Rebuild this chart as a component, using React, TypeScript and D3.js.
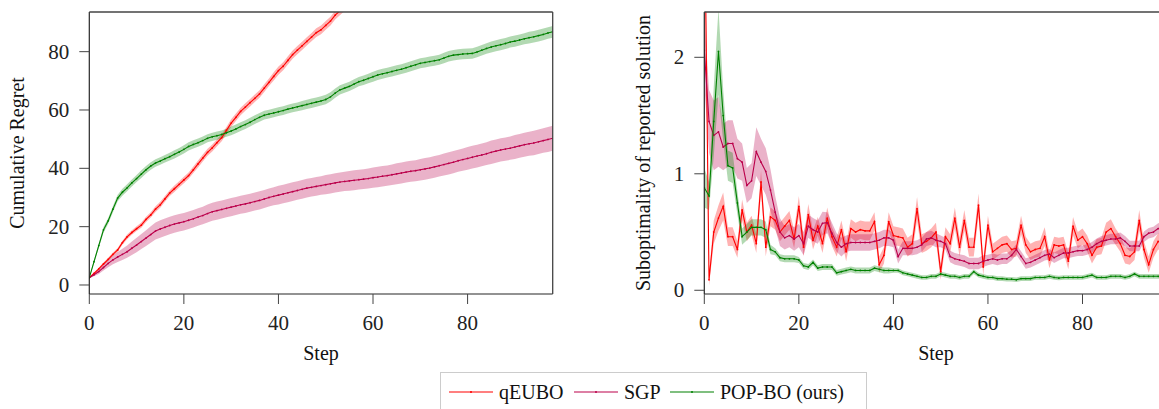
import React from 'react';
import * as d3 from 'd3';

// step axis: 0..98
const stepTicks = [0, 20, 40, 60, 80];
const regretTicks = [0, 20, 40, 60, 80];
const suboptTicks = [0, 1, 2];

// cumulative regret (left panel); qEUBO leaves the plot after step 53
const qeuboRegret = [
  2.5, 4.0, 5.5, 7.2, 8.8, 10.5, 12.0, 14.5, 16.5, 18.0,
  19.3, 20.5, 22.5, 24.0, 26.0, 27.5, 29.5, 31.5, 33.0, 34.5,
  36.0, 37.5, 39.5, 41.5, 43.5, 45.5, 47.0, 48.8, 50.5, 53.0,
  55.5, 57.5, 59.5, 61.0, 62.5, 64.0, 65.5, 67.5, 69.5, 71.5,
  73.5, 75.0, 77.0, 79.0, 80.5, 82.0, 83.5, 85.0, 86.5, 87.5,
  89.0, 90.5, 92.5, 94.0, 95.5, 97.5,
];
const qeuboRegretErr = [
  0.3, 0.4, 0.5, 0.5, 0.6, 0.6, 0.7, 0.7, 0.8, 0.8,
  0.8, 0.9, 0.9, 0.9, 1.0, 1.0, 1.0, 1.0, 1.1, 1.1,
  1.1, 1.1, 1.1, 1.2, 1.2, 1.2, 1.2, 1.2, 1.2, 1.2,
  1.3, 1.3, 1.3, 1.3, 1.3, 1.3, 1.3, 1.3, 1.3, 1.4,
  1.4, 1.4, 1.4, 1.4, 1.4, 1.4, 1.4, 1.4, 1.5, 1.5,
  1.5, 1.5, 1.5, 1.5, 1.5, 1.5,
];
const sgpRegret = [
  2.5, 3.5, 4.6, 6.0, 7.4, 8.6, 9.6, 10.5, 11.4, 12.6,
  13.7, 14.9, 16.1, 17.3, 18.5, 19.2, 19.8, 20.4, 20.9, 21.3,
  21.7, 22.2, 22.7, 23.3, 23.8, 24.5, 25.1, 25.5, 25.9, 26.3,
  26.7, 27.1, 27.5, 27.8, 28.2, 28.6, 29.0, 29.5, 30.0, 30.4,
  30.8, 31.2, 31.6, 32.0, 32.4, 32.8, 33.2, 33.5, 33.8, 34.1,
  34.4, 34.7, 35.0, 35.3, 35.5, 35.7, 35.9, 36.1, 36.3, 36.5,
  36.8, 37.0, 37.3, 37.5, 37.8, 38.1, 38.4, 38.7, 39.0, 39.2,
  39.5, 39.8, 40.1, 40.5, 40.9, 41.3, 41.7, 42.1, 42.6, 43.0,
  43.4, 43.8, 44.2, 44.6, 45.0, 45.5, 45.9, 46.3, 46.6, 46.9,
  47.3, 47.7, 48.1, 48.4, 48.7, 49.1, 49.5, 49.9, 50.3,
];
const sgpRegretErr = [
  0.2, 0.5, 0.8, 1.0, 1.3, 1.5, 1.7, 1.9, 2.1, 2.3,
  2.5, 2.6, 2.7, 2.8, 2.9, 3.0, 3.0, 3.0, 3.0, 3.0,
  3.0, 3.0, 3.0, 3.0, 3.0, 3.1, 3.1, 3.1, 3.1, 3.1,
  3.1, 3.1, 3.1, 3.1, 3.1, 3.1, 3.1, 3.1, 3.1, 3.1,
  3.2, 3.2, 3.2, 3.2, 3.2, 3.2, 3.2, 3.2, 3.2, 3.2,
  3.3, 3.3, 3.3, 3.3, 3.3, 3.4, 3.4, 3.4, 3.4, 3.4,
  3.5, 3.5, 3.5, 3.5, 3.5, 3.6, 3.6, 3.6, 3.6, 3.6,
  3.7, 3.7, 3.7, 3.7, 3.7, 3.8, 3.8, 3.8, 3.8, 3.8,
  3.9, 3.9, 3.9, 3.9, 3.9, 4.0, 4.0, 4.0, 4.0, 4.0,
  4.1, 4.1, 4.1, 4.1, 4.2, 4.2, 4.2, 4.3, 4.3,
];
const popboRegret = [
  2.5, 8.0, 13.5, 18.9, 22.0, 26.0, 29.8, 31.8, 33.3, 35.0,
  36.5, 38.0, 39.5, 40.8, 41.8, 42.5, 43.3, 44.0, 44.8, 45.6,
  46.5, 47.5, 48.2, 48.8, 49.5, 50.3, 50.8, 51.2, 51.6, 52.2,
  52.8, 53.5, 54.3, 55.0, 55.8, 56.7, 57.5, 58.2, 58.6, 59.0,
  59.4, 59.8, 60.3, 60.7, 61.1, 61.5, 61.9, 62.3, 62.7, 63.1,
  63.6, 64.5, 65.8, 66.9, 67.5, 68.1, 68.9, 69.7, 70.2, 70.8,
  71.4, 72.0, 72.4, 72.8, 73.2, 73.6, 74.0, 74.5, 75.0, 75.5,
  76.0, 76.3, 76.6, 76.9, 77.2, 77.8, 78.4, 78.8, 79.0, 79.2,
  79.3, 79.4, 79.9, 80.5, 81.1, 81.6, 82.0, 82.4, 82.8, 83.3,
  83.6, 84.0, 84.4, 84.8, 85.1, 85.5, 85.9, 86.4, 86.8,
];
const popboRegretErr = [
  0.3, 0.6, 0.8, 1.0, 1.0, 1.1, 1.1, 1.2, 1.2, 1.2,
  1.2, 1.3, 1.3, 1.3, 1.3, 1.3, 1.3, 1.3, 1.4, 1.4,
  1.4, 1.4, 1.4, 1.4, 1.4, 1.4, 1.4, 1.4, 1.4, 1.4,
  1.5, 1.5, 1.5, 1.5, 1.5, 1.5, 1.5, 1.5, 1.5, 1.5,
  1.5, 1.5, 1.5, 1.5, 1.5, 1.6, 1.6, 1.6, 1.6, 1.6,
  1.6, 1.6, 1.6, 1.6, 1.6, 1.6, 1.6, 1.6, 1.6, 1.6,
  1.7, 1.7, 1.7, 1.7, 1.7, 1.7, 1.7, 1.7, 1.7, 1.7,
  1.7, 1.7, 1.7, 1.7, 1.7, 1.8, 1.8, 1.8, 1.8, 1.8,
  1.8, 1.8, 1.8, 1.8, 1.8, 1.9, 1.9, 1.9, 1.9, 1.9,
  1.9, 1.9, 1.9, 2.0, 2.0, 2.0, 2.0, 2.0, 2.0,
];

// suboptimality of reported solution (right panel)
const qeuboSubopt = [
  3.5, 0.09, 0.50, 0.62, 0.72, 0.46, 0.46, 0.35, 0.69, 0.50,
  0.56, 0.40, 0.93, 0.37, 0.63, 0.60, 0.50, 0.55, 0.60, 0.44,
  0.72, 0.37, 0.65, 0.43, 0.55, 0.40, 0.62, 0.46, 0.37, 0.52,
  0.33, 0.53, 0.50, 0.52, 0.51, 0.51, 0.59, 0.22, 0.30, 0.59,
  0.47, 0.46, 0.45, 0.37, 0.40, 0.70, 0.40, 0.42, 0.45, 0.50,
  0.16, 0.46, 0.40, 0.62, 0.37, 0.60, 0.37, 0.37, 0.73, 0.20,
  0.56, 0.33, 0.36, 0.39, 0.40, 0.35, 0.36, 0.56, 0.39, 0.33,
  0.35, 0.36, 0.46, 0.26, 0.39, 0.38, 0.39, 0.25, 0.55, 0.43,
  0.46, 0.40, 0.30, 0.37, 0.38, 0.50, 0.53, 0.46, 0.40, 0.30,
  0.29, 0.33, 0.60, 0.35, 0.22, 0.35, 0.42, 0.40, 0.45,
];
const qeuboSuboptErr = [
  0.30, 0.05, 0.10, 0.11, 0.12, 0.08, 0.08, 0.07, 0.09, 0.08,
  0.08, 0.08, 0.10, 0.08, 0.08, 0.08, 0.08, 0.08, 0.08, 0.08,
  0.09, 0.08, 0.09, 0.08, 0.08, 0.08, 0.09, 0.08, 0.08, 0.08,
  0.08, 0.08, 0.08, 0.08, 0.08, 0.08, 0.08, 0.07, 0.07, 0.08,
  0.08, 0.08, 0.08, 0.08, 0.08, 0.10, 0.08, 0.08, 0.08, 0.08,
  0.07, 0.08, 0.08, 0.09, 0.08, 0.09, 0.08, 0.08, 0.10, 0.07,
  0.08, 0.07, 0.07, 0.07, 0.07, 0.07, 0.07, 0.08, 0.07, 0.07,
  0.07, 0.07, 0.08, 0.07, 0.07, 0.07, 0.07, 0.07, 0.08, 0.07,
  0.07, 0.07, 0.07, 0.07, 0.07, 0.08, 0.08, 0.07, 0.07, 0.07,
  0.07, 0.07, 0.09, 0.07, 0.07, 0.07, 0.07, 0.07, 0.07,
];
const sgpSubopt = [
  2.06, 1.45, 1.33, 1.36, 1.23, 1.26, 1.26, 1.13, 1.10, 0.90,
  0.94, 1.19, 1.10, 1.02, 0.86, 0.67, 0.50, 0.45, 0.47, 0.44,
  0.47, 0.40, 0.55, 0.52, 0.50, 0.575, 0.58, 0.49, 0.41, 0.37,
  0.40, 0.41, 0.41, 0.41, 0.41, 0.41, 0.42, 0.43, 0.45, 0.45,
  0.43, 0.29, 0.36, 0.36, 0.36, 0.37, 0.39, 0.44, 0.45, 0.43,
  0.42, 0.40, 0.29, 0.27, 0.26, 0.25, 0.23, 0.23, 0.23, 0.25,
  0.26, 0.27, 0.26, 0.27, 0.27, 0.30, 0.35, 0.29, 0.23, 0.24,
  0.26, 0.28, 0.30, 0.31, 0.28, 0.30, 0.32, 0.32, 0.33, 0.34,
  0.34, 0.35, 0.37, 0.40, 0.42, 0.43, 0.44, 0.44, 0.45, 0.42,
  0.38, 0.38, 0.38, 0.46, 0.49, 0.50, 0.53, 0.54, 0.55,
];
const sgpSuboptErr = [
  0.30, 0.27, 0.30, 0.30, 0.20, 0.20, 0.20, 0.17, 0.16, 0.15,
  0.15, 0.21, 0.20, 0.20, 0.18, 0.14, 0.12, 0.10, 0.10, 0.10,
  0.10, 0.10, 0.10, 0.10, 0.10, 0.10, 0.09, 0.09, 0.08, 0.08,
  0.07, 0.07, 0.07, 0.07, 0.07, 0.07, 0.07, 0.07, 0.07, 0.07,
  0.06, 0.06, 0.06, 0.06, 0.06, 0.06, 0.06, 0.06, 0.06, 0.06,
  0.05, 0.05, 0.05, 0.05, 0.05, 0.05, 0.05, 0.05, 0.05, 0.05,
  0.045, 0.045, 0.045, 0.045, 0.045, 0.045, 0.045, 0.045, 0.045, 0.045,
  0.045, 0.045, 0.045, 0.045, 0.045, 0.045, 0.045, 0.045, 0.045, 0.045,
  0.045, 0.045, 0.045, 0.045, 0.045, 0.045, 0.045, 0.045, 0.045, 0.045,
  0.045, 0.045, 0.045, 0.045, 0.045, 0.045, 0.045, 0.045, 0.045,
];
const popboSubopt = [
  0.88, 0.81, 1.45, 2.05, 1.50, 1.07, 1.05, 0.75, 0.46, 0.50,
  0.54, 0.54, 0.54, 0.52, 0.35, 0.33, 0.28, 0.27, 0.27, 0.27,
  0.26, 0.21, 0.20, 0.24, 0.19, 0.20, 0.20, 0.20, 0.15, 0.16,
  0.17, 0.18, 0.17, 0.17, 0.17, 0.17, 0.19, 0.18, 0.17, 0.17,
  0.17, 0.17, 0.15, 0.14, 0.13, 0.12, 0.11, 0.11, 0.12, 0.12,
  0.14, 0.13, 0.12, 0.12, 0.11, 0.12, 0.12, 0.16, 0.13, 0.12,
  0.11, 0.11, 0.10, 0.10, 0.095, 0.095, 0.09, 0.10, 0.10, 0.10,
  0.11, 0.11, 0.11, 0.12, 0.11, 0.105, 0.11, 0.11, 0.11, 0.11,
  0.11, 0.12, 0.13, 0.11, 0.11, 0.11, 0.12, 0.12, 0.12, 0.11,
  0.12, 0.14, 0.12, 0.12, 0.12, 0.12, 0.12, 0.12, 0.12,
];
const popboSuboptErr = [
  0.17, 0.12, 0.30, 0.37, 0.22, 0.13, 0.13, 0.10, 0.07, 0.07,
  0.07, 0.07, 0.07, 0.07, 0.04, 0.03, 0.03, 0.03, 0.03, 0.03,
  0.025, 0.025, 0.025, 0.025, 0.025, 0.025, 0.025, 0.025, 0.025, 0.025,
  0.025, 0.025, 0.025, 0.025, 0.025, 0.025, 0.025, 0.025, 0.025, 0.025,
  0.02, 0.02, 0.02, 0.02, 0.02, 0.02, 0.02, 0.02, 0.02, 0.02,
  0.02, 0.02, 0.02, 0.02, 0.02, 0.02, 0.02, 0.02, 0.02, 0.02,
  0.02, 0.02, 0.02, 0.02, 0.02, 0.02, 0.02, 0.02, 0.02, 0.02,
  0.02, 0.02, 0.02, 0.02, 0.02, 0.02, 0.02, 0.02, 0.02, 0.02,
  0.02, 0.02, 0.02, 0.02, 0.02, 0.02, 0.02, 0.02, 0.02, 0.02,
  0.02, 0.02, 0.02, 0.02, 0.02, 0.02, 0.02, 0.02, 0.02,
];

const methodNames = ['qEUBO', 'SGP', 'POP-BO (ours)'];
const colors = ['#ff0000', '#bb004b', '#008000'];

const FONT = '"Liberation Serif", "Times New Roman", serif';
const width = 1159;
const height = 409;

type Series = { color: string; mean: number[]; err: number[] };

const Panel = ({ id, x0, x1, yDomain, yTicks, yLabel, yLabelX, series, showRight }: {
  id: string;
  x0: number;
  x1: number;
  yDomain: [number, number];
  yTicks: number[];
  yLabel: string;
  yLabelX: number;
  series: Series[];
  showRight: boolean;
}) => {
  const top = 12;
  const bottom = 294;
  const x = d3.scaleLinear().domain([0, 98]).range([x0, x1]);
  const y = d3.scaleLinear().domain(yDomain).range([bottom, top]);

  const line = d3
    .line<number>()
    .x((d, i) => x(i))
    .y((d) => y(d));

  const band = (s: Series) =>
    d3
      .area<number>()
      .x((d, i) => x(i))
      .y0((d, i) => y(d - s.err[i]))
      .y1((d, i) => y(d + s.err[i]))(s.mean);

  return (
    <g>
      <defs>
        <clipPath id={id}>
          <rect x={x0} y={top} width={x1 - x0} height={bottom - top} />
        </clipPath>
      </defs>
      <g clipPath={`url(#${id})`}>
        {series.map((s, k) => (
          <path key={'b' + k} d={band(s) || ''} fill={s.color} opacity={0.3} stroke="none" />
        ))}
        {series.map((s, k) => (
          <g key={'l' + k}>
            <path d={line(s.mean) || ''} fill="none" stroke={s.color} strokeWidth={1.1} />
            {s.mean.map((v, i) => (
              <circle key={i} cx={x(i)} cy={y(v)} r={0.9} fill={s.color} />
            ))}
          </g>
        ))}
      </g>

      {/* frame */}
      <line x1={x0} x2={x0} y1={top} y2={bottom} stroke="#262626" strokeWidth={1.2} />
      <line x1={x0} x2={x1} y1={bottom} y2={bottom} stroke="#262626" strokeWidth={1.2} />
      <line x1={x0} x2={x1} y1={top} y2={top} stroke="#444" strokeWidth={1.3} />
      {showRight && <line x1={x1} x2={x1} y1={top} y2={bottom} stroke="#444" strokeWidth={1.3} />}

      {/* x axis */}
      {stepTicks.map((t) => (
        <g key={'x' + t}>
          <line x1={x(t)} x2={x(t)} y1={bottom} y2={bottom + 10} stroke="#444" strokeWidth={1} />
          <text x={x(t)} y={bottom + 36} textAnchor="middle" fontSize={21} fontFamily={FONT} fill="#222">
            {t}
          </text>
        </g>
      ))}
      <text x={(x0 + x1) / 2} y={360} textAnchor="middle" fontSize={20} fontFamily={FONT} fill="#111">
        Step
      </text>

      {/* y axis */}
      {yTicks.map((t) => (
        <g key={'y' + t}>
          <line x1={x0 - 10} x2={x0} y1={y(t)} y2={y(t)} stroke="#444" strokeWidth={1} />
          <text x={x0 - 20} y={y(t) + 7} textAnchor="end" fontSize={21} fontFamily={FONT} fill="#222">
            {t}
          </text>
        </g>
      ))}
      <text
        transform={`translate(${yLabelX},${(top + bottom) / 2}) rotate(-90)`}
        textAnchor="middle"
        fontSize={20}
        fontFamily={FONT}
        fill="#111"
      >
        {yLabel}
      </text>
    </g>
  );
};

const Legend = () => {
  const itemX = [449, 574, 670];
  const cy = 392;
  return (
    <g>
      <rect x={440.5} y={372.5} width={426} height={50} fill="#fff" stroke="#ccc" strokeWidth={1} />
      {methodNames.map((name, i) => (
        <g key={name}>
          <line x1={itemX[i]} x2={itemX[i] + 44} y1={cy} y2={cy} stroke={colors[i]} strokeWidth={1.1} />
          <circle cx={itemX[i] + 22} cy={cy} r={1} fill={colors[i]} />
          <text x={itemX[i] + 50} y={cy + 7} fontSize={20} fontFamily={FONT} fill="#111">
            {name}
          </text>
        </g>
      ))}
    </g>
  );
};

export default function App() {
  const regretSeries: Series[] = [
    { color: colors[0], mean: qeuboRegret, err: qeuboRegretErr },
    { color: colors[1], mean: sgpRegret, err: sgpRegretErr },
    { color: colors[2], mean: popboRegret, err: popboRegretErr },
  ];
  const suboptSeries: Series[] = [
    { color: colors[0], mean: qeuboSubopt, err: qeuboSuboptErr },
    { color: colors[1], mean: sgpSubopt, err: sgpSuboptErr },
    { color: colors[2], mean: popboSubopt, err: popboSuboptErr },
  ];

  return (
    <div style={{ position: 'absolute', left: 0, top: 0 }}>
      <svg width={width} height={height} style={{ display: 'block', background: '#fff' }}>
        <Panel
          id="clip-left"
          x0={89.3}
          x1={552.7}
          yDomain={[-3.09, 93.6]}
          yTicks={regretTicks}
          yLabel="Cumulative Regret"
          yLabelX={24}
          series={regretSeries}
          showRight={true}
        />
        <Panel
          id="clip-right"
          x0={704.3}
          x1={1167.6}
          yDomain={[-0.032, 2.389]}
          yTicks={suboptTicks}
          yLabel="Suboptimality of reported solution"
          yLabelX={650}
          series={suboptSeries}
          showRight={false}
        />
        <Legend />
      </svg>
    </div>
  );
}
